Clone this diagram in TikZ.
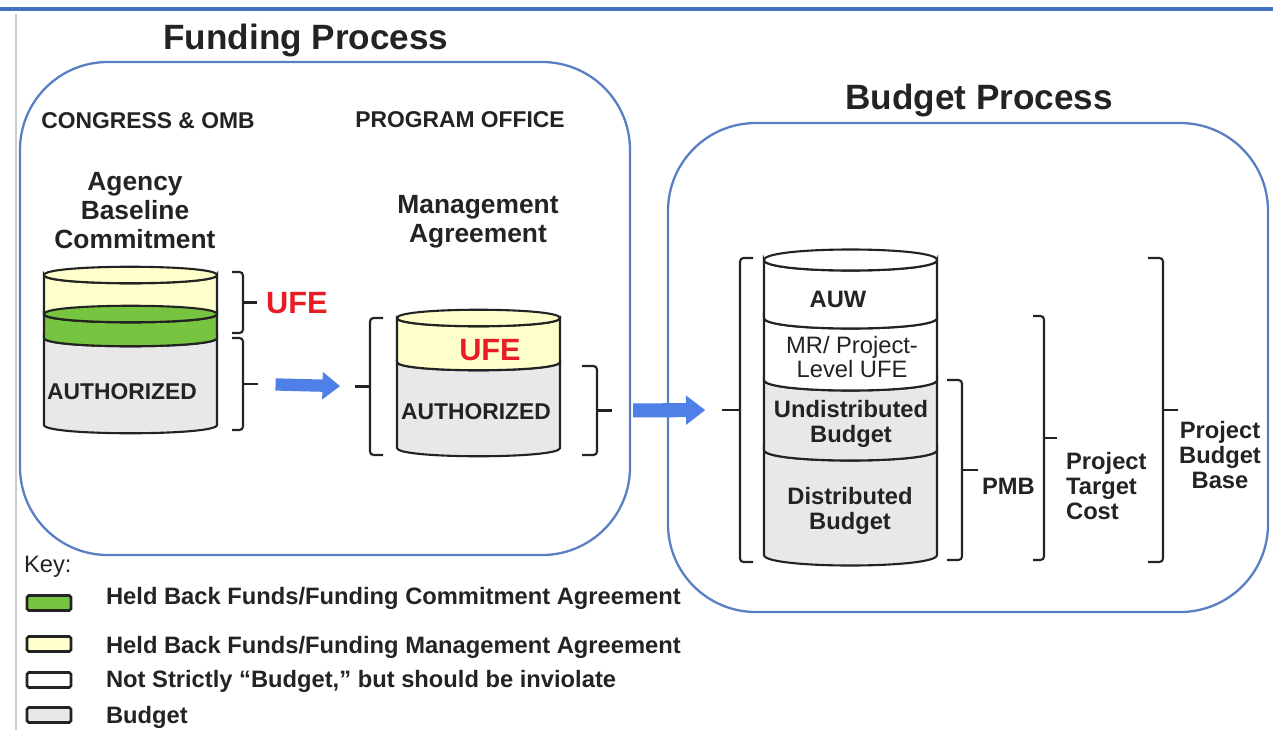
\documentclass[tikz,border=0pt]{standalone}
\usepackage{fontspec}
\setmainfont{Liberation Sans}
\usetikzlibrary{arrows.meta}
\definecolor{frameblue}{RGB}{88,126,196}
\definecolor{lineblue}{RGB}{68,114,196}
\definecolor{flowblue}{RGB}{78,128,232}
\definecolor{ufeyellow}{RGB}{255,255,204}
\definecolor{fundgreen}{RGB}{118,196,64}
\definecolor{budgetgrey}{RGB}{232,232,232}
\definecolor{ufered}{RGB}{232,28,36}
\definecolor{ink}{RGB}{35,35,35}
\newcommand\bulge{11}
% one band of a cylinder: fill, left x, right x, top y, bottom y
\newcommand\band[5]{%
  \filldraw[cyl,fill=#1] (#2,#4) .. controls (#2,#4+\bulge) and (#3,#4+\bulge) .. (#3,#4)
    -- (#3,#5) .. controls (#3,#5+\bulge) and (#2,#5+\bulge) .. (#2,#5) -- cycle;}
% full ellipse on top of a band: fill, left x, right x, y
\newcommand\lid[4]{%
  \filldraw[cyl,fill=#1] (#2,#4) .. controls (#2,#4-\bulge) and (#3,#4-\bulge) .. (#3,#4)
    .. controls (#3,#4+\bulge) and (#2,#4+\bulge) .. (#2,#4) -- cycle;}
% bracket: end x, spine x, top y, bottom y, tick x, name of tick end
\newcommand\brk[6]{%
  \draw[brk] (#1,#3) -- (#2,#3) -- (#2,#4) -- (#1,#4);
  \draw[brk] (#2,{(#3+#4)/2}) -- (#5,{(#3+#4)/2}) coordinate (#6);}

\begin{document}
\begin{tikzpicture}[
        x=0.02cm, y=-0.02cm,
        every node/.style={text=ink, inner sep=1pt},
        frame/.style={draw=frameblue, line width=1.3pt, rounded corners=50pt},
        cyl/.style={draw=ink, line width=1.2pt},
        brk/.style={draw=ink, line width=1.2pt, rounded corners=2pt},
        flow/.style={draw=flowblue, line width=7pt, -{Triangle[length=10pt,width=15pt]}},
        title/.style={font=\bfseries\fontsize{20}{24}\selectfont},
        party/.style={font=\bfseries\fontsize{13}{15}\selectfont},
        doc/.style={font=\bfseries\fontsize{15}{16.5}\selectfont, align=center},
        ufe/.style={font=\bfseries\fontsize{17.5}{20}\selectfont, text=ufered},
        part/.style={font=\bfseries\fontsize{13.5}{14.2}\selectfont, align=center},
        keytext/.style={font=\bfseries\fontsize{13.5}{15}\selectfont, anchor=west},
        swatch/.style={draw=ink, line width=1.5pt, rounded corners=1pt,
            minimum width=25pt, minimum height=8.5pt, inner sep=0pt},
    ]
    \useasboundingbox (0,0) rectangle (1273,730);

    \draw[lineblue, line width=1.8pt] (0,9) -- (1273,9);
    \draw[black!20, line width=0.6pt] (16,14) -- (16,730);

    % funding side
    \node[title] (fundtitle) at (306,40) {Funding Process};
    \draw[frame] (20,62) rectangle (630,555);
    \node[party] (congress) at (148,121) {CONGRESS \& OMB};
    \node[party] (office) at (460,120) {PROGRAM OFFICE};
    \node[doc] (abc) at (135,211) {Agency\\Baseline\\Commitment};
    \node[doc] (ma) at (478,222) {Management\\Agreement};

    \band{budgetgrey}{44}{217}{338}{425}
    \band{fundgreen}{44}{217}{314}{338}
    \band{ufeyellow}{44}{217}{275}{314}
    \lid{ufeyellow}{44}{217}{275}
    \lid{fundgreen}{44}{217}{314}
    \node[part, font=\bfseries\fontsize{13}{15}\selectfont] (auth1) at (122,392) {AUTHORIZED};

    \brk{232}{243}{272}{333}{257}{b1}
    \brk{232}{243}{338}{430}{258}{b2}
    \node[ufe, anchor=west] (ufe1) at (264,303) {UFE};

    \band{budgetgrey}{397}{560}{362}{448}
    \band{ufeyellow}{397}{560}{318}{362}
    \lid{ufeyellow}{397}{560}{318}
    \node[ufe] (ufe2) at (490,350) {UFE};
    \node[part, font=\bfseries\fontsize{13}{15}\selectfont] (auth2) at (476,412) {AUTHORIZED};

    \brk{383}{370}{318}{455}{355}{b3}
    \brk{582}{597}{366}{455}{612}{b4}

    \draw[flow, shorten <=10pt, shorten >=8.5pt] (b2) -- (b3);

    % budget side
    \node[title] (budtitle) at (979,100) {Budget Process};
    \draw[frame] (668,123) rectangle (1268,612);

    \renewcommand\bulge{14}
    \band{budgetgrey}{764}{937}{450}{555}
    \band{budgetgrey}{764}{937}{380}{450}
    \band{white}{764}{937}{318}{380}
    \band{white}{764}{937}{260}{318}
    \lid{white}{764}{937}{260}
    \node[part] (auw) at (838,299) {AUW};
    \node[part, font=\fontsize{13.5}{14.2}\selectfont] (mr) at (852,357) {MR/ Project-\\Level UFE};
    \node[part] (undist) at (851,424) {Undistributed\\Budget};
    \node[part] (dist) at (850,511) {Distributed\\Budget};

    \brk{753}{740}{258}{562}{722}{b5}
    \brk{947}{962}{380}{560}{978}{b6}
    \brk{1033}{1044}{316}{560}{1057}{b7}
    \brk{1148}{1163}{258}{562}{1178}{b8}

    \draw[flow, line width=8pt, -{Triangle[length=11pt,width=16pt]},
          shorten <=12pt, shorten >=9.5pt] (b4) -- (b5);

    \node[part, anchor=west] (pmb) at (980,486) {PMB};
    \node[part, align=left, anchor=west] (ptc) at (1064,486) {Project\\Target\\Cost};
    \node[part] (pbb) at (1220,455) {Project\\Budget\\Base};

    % key
    \node[font=\fontsize{13.5}{15}\selectfont, anchor=west] (key) at (22,567) {Key:};
    \node[swatch, fill=fundgreen] (k1) at (49,603) {};
    \node[swatch, fill=ufeyellow] (k2) at (49,644) {};
    \node[swatch, fill=white] (k3) at (49,680) {};
    \node[swatch, fill=budgetgrey] (k4) at (49,715) {};
    \node[keytext] (t1) at (104,598) {Held Back Funds/Funding Commitment Agreement};
    \node[keytext] (t2) at (104,647) {Held Back Funds/Funding Management Agreement};
    \node[keytext] (t3) at (104,681) {Not Strictly “Budget,” but should be inviolate};
    \node[keytext] (t4) at (104,717) {Budget};
\end{tikzpicture}
\end{document}
